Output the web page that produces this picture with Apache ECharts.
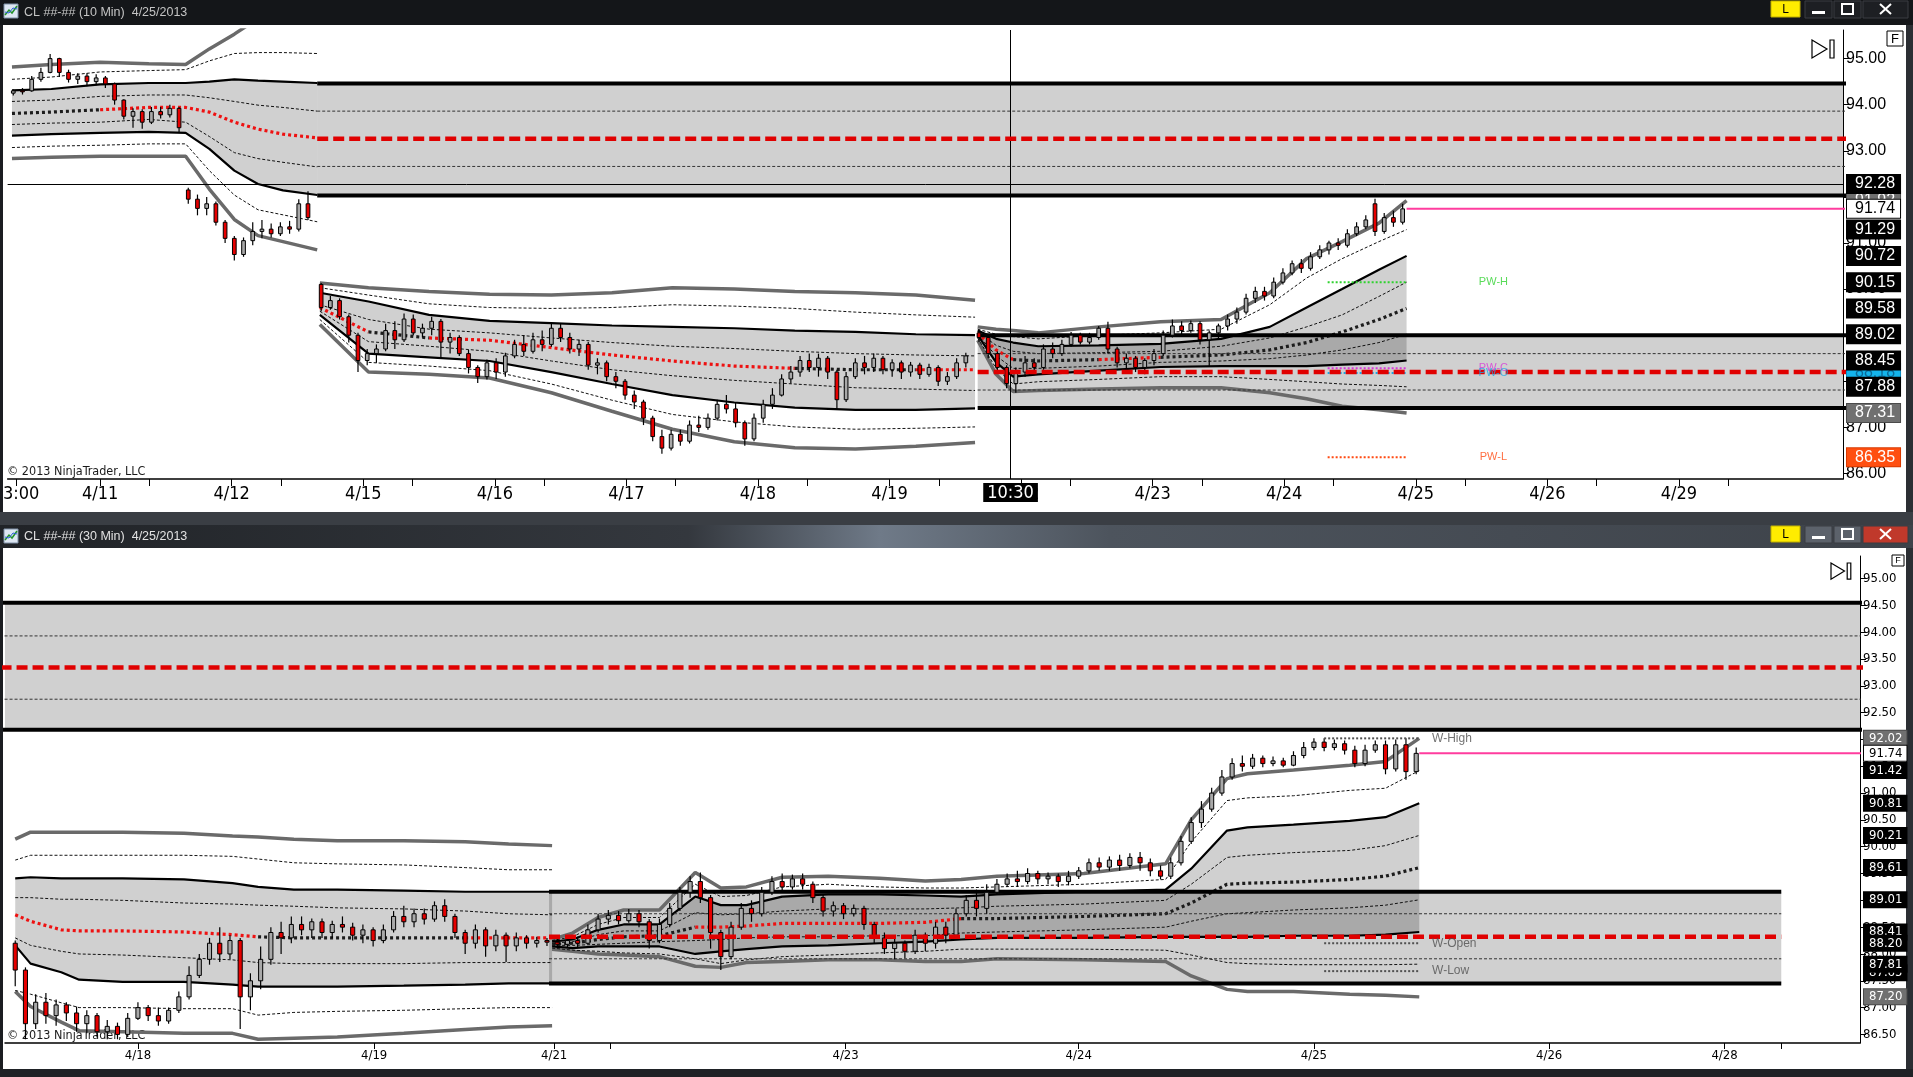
<!DOCTYPE html>
<html>
<head>
<meta charset="utf-8">
<title>CL ##-## 10 Min / 30 Min</title>
<script src="https://cdn.jsdelivr.net/npm/echarts@6.0.0/dist/echarts.min.js"></script>
<style>
html, body { margin: 0; padding: 0; background: #1b1d21; }
#main { width: 1913px; height: 1077px; }
</style>
</head>
<body>
<div id="main"></div>
<script>
// ---------- 10 Min panel (top). x = trading day: 4/11 = 1, 4/12 = 2, 4/15 = 3 ... ----------
var topTickDays = [0.36, 1, 1.375, 2, 2.375, 3, 3.375, 4, 4.375, 5, 5.375, 6, 6.375, 7, 7.375,
  8, 8.375, 9, 9.375, 10, 10.375, 11, 11.375, 12, 12.375, 13, 13.375];
var topLabelDays = [0.4, 1, 2, 3, 4, 5, 6, 7, 8, 9, 10, 11, 12, 13];
var topLabelText = ['3:00', '4/11', '4/12', '4/15', '4/16', '4/17', '4/18', '4/19', '4/22', '4/23', '4/24', '4/25', '4/26', '4/29'];
var topPriceTicks = [86, 87, 88, 89, 90, 91, 92, 93, 94, 95];

// bars: [open, close, low, high]
var topBars1 = [[94.25,94.30,94.20,94.33],[94.30,94.28,94.22,94.36],[94.30,94.55,94.28,94.62],[94.55,94.70,94.50,94.80],
  [94.70,95.00,94.68,95.10],[95.00,94.70,94.60,95.02],[94.70,94.55,94.48,94.76],[94.55,94.62,94.45,94.68],
  [94.62,94.50,94.40,94.68],[94.50,94.58,94.42,94.66],[94.58,94.45,94.36,94.62],[94.45,94.10,94.00,94.48],
  [94.10,93.75,93.68,94.12],[93.75,93.85,93.50,93.92],[93.85,93.62,93.48,93.90],[93.62,93.85,93.58,93.95],
  [93.85,93.78,93.70,93.95],[93.78,93.92,93.72,94.00],[93.92,93.50,93.40,93.95],[92.15,91.95,91.85,92.20],
  [91.95,91.75,91.60,92.05],[91.75,91.85,91.60,92.00],[91.85,91.45,91.38,91.90],[91.45,91.10,91.00,91.50],
  [91.10,90.75,90.62,91.15],[90.75,91.05,90.70,91.12],[91.05,91.25,90.95,91.45],[91.25,91.30,91.10,91.50],
  [91.30,91.20,91.12,91.42],[91.20,91.35,91.15,91.45],[91.35,91.30,91.20,91.48],[91.30,91.85,91.25,91.95],
  [91.85,91.55,91.50,92.12]];
var topBars2 = [[90.10,89.60,89.52,90.13],[89.60,89.75,89.55,89.85],[89.75,89.40,89.34,89.80],[89.40,89.00,88.84,89.45],
  [89.00,88.45,88.20,89.05],[88.45,88.60,88.35,88.70],[88.60,88.70,88.40,88.80],[88.70,89.10,88.65,89.25],
  [89.10,88.90,88.70,89.30],[88.90,89.35,88.85,89.47],[89.35,89.05,89.00,89.45],[89.05,89.15,88.95,89.25],
  [89.15,89.30,89.00,89.40],[89.30,88.85,88.50,89.35],[88.85,88.95,88.60,89.05],[88.95,88.60,88.55,89.00],
  [88.60,88.30,88.17,88.68],[88.30,88.10,87.96,88.35],[88.10,88.40,88.04,88.47],[88.40,88.20,88.05,88.50],
  [88.20,88.55,88.10,88.62],[88.55,88.80,88.50,88.90],[88.80,88.65,88.55,89.00],[88.65,88.90,88.60,89.05],
  [88.90,88.80,88.65,89.10],[88.80,89.15,88.75,89.26],[89.15,88.95,88.85,89.25],[88.95,88.70,88.60,89.05],
  [88.70,88.80,88.55,88.90],[88.80,88.35,88.25,88.85],[88.35,88.40,88.15,88.50],[88.40,88.10,88.00,88.45],
  [88.10,88.00,87.85,88.20],[88.00,87.70,87.60,88.05],[87.70,87.55,87.40,87.80],[87.55,87.20,87.05,87.60],
  [87.20,86.80,86.70,87.25],[86.80,86.55,86.43,86.95],[86.55,86.85,86.50,86.95],[86.85,86.70,86.60,86.95],
  [86.70,87.05,86.65,87.15],[87.05,87.00,86.90,87.25],[87.00,87.20,86.95,87.30],[87.20,87.50,87.15,87.60],
  [87.50,87.40,87.30,87.70],[87.40,87.10,87.00,87.55],[87.10,86.75,86.60,87.15],[86.75,87.20,86.70,87.30],
  [87.20,87.50,87.10,87.60],[87.50,87.70,87.40,87.85],[87.70,88.05,87.67,88.15],[88.05,88.20,87.95,88.33],
  [88.20,88.45,88.10,88.55],[88.45,88.30,88.20,88.60],[88.30,88.50,88.10,88.60],[88.50,88.20,88.05,88.55],
  [88.20,87.60,87.40,88.25],[87.60,88.10,87.55,88.20],[88.10,88.40,88.05,88.50],[88.40,88.30,88.15,88.55],
  [88.30,88.50,88.20,88.60],[88.50,88.25,88.15,88.55],[88.25,88.40,88.10,88.48],[88.40,88.20,88.05,88.45],
  [88.20,88.35,88.10,88.42],[88.35,88.15,88.05,88.40],[88.15,88.30,88.10,88.38],[88.30,88.00,87.90,88.35],
  [88.00,88.10,87.92,88.20],[88.10,88.40,88.05,88.50],[88.40,88.55,88.30,88.62]];
var topBars3 = [[89.05,88.95,88.85,89.12],[88.95,88.60,88.50,89.00],[88.60,88.30,88.20,88.65],[88.30,87.95,87.85,88.35],
  [87.95,88.20,87.75,88.30],[88.20,88.40,88.10,88.55],[88.40,88.30,88.20,88.50],[88.30,88.70,88.25,88.80],
  [88.70,88.60,88.50,88.84],[88.60,88.80,88.55,88.90],[88.80,89.00,88.75,89.07],[89.00,88.85,88.80,89.05],
  [88.85,88.95,88.80,89.05],[88.95,89.15,88.90,89.20],[89.15,88.70,88.60,89.29],[88.70,88.40,88.30,88.75],
  [88.40,88.50,88.25,88.60],[88.50,88.30,88.20,88.55],[88.30,88.45,88.15,88.50],[88.45,88.60,88.35,88.70],
  [88.60,89.00,88.55,89.10],[89.00,89.20,88.95,89.34],[89.20,89.10,89.00,89.30],[89.10,89.25,89.05,89.32],
  [89.25,88.90,88.80,89.30],[88.90,89.05,88.33,89.10],[89.05,89.20,88.90,89.25],[89.20,89.35,89.10,89.45],
  [89.35,89.50,89.25,89.60],[89.50,89.80,89.45,89.90],[89.80,89.95,89.70,90.05],[89.95,89.85,89.75,90.05],
  [89.85,90.15,89.80,90.25],[90.15,90.35,90.10,90.45],[90.35,90.55,90.30,90.62],[90.55,90.45,90.35,90.65],
  [90.45,90.70,90.40,90.80],[90.70,90.85,90.65,90.95],[90.85,91.00,90.75,91.05],[91.00,90.95,90.85,91.10],
  [90.95,91.20,90.90,91.30],[91.20,91.35,91.15,91.45],[91.35,91.50,91.30,91.60],[91.85,91.25,91.15,91.96],
  [91.25,91.55,91.20,91.65],[91.55,91.45,91.35,91.70],[91.45,91.74,91.40,91.85]];

// weekly VWAP bands: [day, grayUp, dashUp2, blackUp, dashUp1, center, dashDn1, blackDn, dashDn2, grayDn]
var topBand1 = [
  [0.33, 94.82, 94.55, 94.31, 94.07, 93.81, 93.57, 93.33, 93.07, 92.83],
  [0.63, 94.87, 94.60, 94.34, 94.10, 93.84, 93.60, 93.36, 93.10, 92.86],
  [1.00, 94.92, 94.71, 94.44, 94.18, 93.89, 93.62, 93.39, 93.12, 92.88],
  [1.37, 94.89, 94.74, 94.47, 94.21, 93.94, 93.68, 93.41, 93.15, 92.88],
  [1.65, 94.87, 94.76, 94.47, 94.21, 93.94, 93.62, 93.39, 93.15, 92.88],
  [1.83, 95.21, 94.95, 94.50, 94.15, 93.84, 93.31, 93.04, 92.57, 92.17],
  [2.02, 95.53, 95.11, 94.55, 94.07, 93.62, 92.96, 92.57, 92.04, 91.51],
  [2.20, 95.87, 95.13, 94.52, 93.99, 93.47, 92.83, 92.28, 91.72, 91.16],
  [2.39, 96.06, 95.13, 94.50, 93.94, 93.36, 92.75, 92.14, 91.61, 91.03],
  [2.65, 96.14, 95.11, 94.47, 93.86, 93.28, 92.65, 92.04, 91.46, 90.85]];
var topBand1Colors = 'kkkrrrrrrr';
var topBand2 = [
  [2.67, 90.13, 90.03, 89.92, 89.66, 89.60, 89.52, 89.44, 89.34, 89.23],
  [3.04, 90.03, 89.87, 89.73, 89.34, 89.07, 88.86, 88.60, 88.41, 88.20],
  [3.50, 89.95, 89.68, 89.44, 89.13, 88.94, 88.76, 88.52, 88.33, 88.15],
  [3.96, 89.89, 89.60, 89.31, 89.05, 88.89, 88.65, 88.44, 88.23, 88.07],
  [4.43, 89.87, 89.58, 89.26, 88.94, 88.73, 88.44, 88.20, 87.94, 87.75],
  [4.89, 89.92, 89.60, 89.21, 88.84, 88.57, 88.25, 87.94, 87.59, 87.35],
  [5.35, 90.03, 89.66, 89.18, 88.76, 88.44, 88.12, 87.70, 87.28, 86.96],
  [5.82, 90.00, 89.63, 89.15, 88.71, 88.33, 88.02, 87.54, 87.12, 86.69],
  [6.28, 89.95, 89.58, 89.10, 88.65, 88.28, 87.94, 87.43, 87.01, 86.56],
  [6.74, 89.92, 89.50, 89.07, 88.60, 88.25, 87.86, 87.38, 86.96, 86.53],
  [7.20, 89.87, 89.44, 89.02, 88.57, 88.25, 87.83, 87.38, 86.98, 86.59],
  [7.65, 89.76, 89.39, 89.00, 88.55, 88.25, 87.80, 87.41, 87.01, 86.67]];
var topBand2Colors = 'rrkrrrrrrkkr';
var topBand3 = [
  [7.67, 89.18, 89.13, 89.10, 89.07, 89.05, 89.02, 89.00, 88.94, 88.89],
  [7.81, 89.13, 89.02, 88.92, 88.78, 88.68, 88.55, 88.41, 88.28, 88.15],
  [7.94, 89.10, 88.97, 88.84, 88.65, 88.47, 88.28, 88.10, 87.94, 87.78],
  [8.13, 89.05, 88.92, 88.76, 88.60, 88.44, 88.28, 88.15, 87.99, 87.80],
  [8.59, 89.18, 89.00, 88.78, 88.62, 88.47, 88.33, 88.23, 88.04, 87.83],
  [9.06, 89.29, 89.05, 88.81, 88.65, 88.52, 88.41, 88.31, 88.10, 87.86],
  [9.52, 89.34, 89.13, 88.92, 88.76, 88.57, 88.44, 88.33, 88.10, 87.86],
  [9.89, 89.92, 89.66, 89.18, 88.94, 88.68, 88.49, 88.33, 88.04, 87.75],
  [10.17, 90.66, 90.24, 89.60, 89.18, 88.84, 88.57, 88.33, 87.99, 87.62],
  [10.44, 91.03, 90.66, 90.00, 89.44, 89.07, 88.68, 88.36, 87.94, 87.46],
  [10.72, 91.43, 91.03, 90.42, 89.84, 89.34, 88.84, 88.39, 87.91, 87.38],
  [10.93, 91.92, 91.29, 90.72, 90.15, 89.58, 89.02, 88.45, 87.88, 87.31]];
var topBand3Colors = 'rrrkkrkkkkkk';

// prior-week zones: [from, to, high, upperQuarter, mid, lowerQuarter, low]
var topZones = [[2.65, 14.6, 94.46, 93.86, 93.26, 92.66, 92.03],
                [7.67, 14.6, 89.00, 88.60, 88.20, 87.81, 87.42]];
// short reference levels: [from, to, price, text, colour]
var topLevels = [[10.33, 10.93, 90.15, 'PW-H', '#2fd22f'],
                 [10.33, 10.93, 88.28, 'PW-C', '#d838d8'],
                 [10.33, 10.93, 88.18, 'PW-O', '#19a9e6'],
                 [10.33, 10.93, 86.35, 'PW-L', '#ff4a12']];
// price markers on the right axis: [price, style]
var topTags = [[91.92, 'gray'], [88.18, 'cyan'], [92.28, 'black'], [91.74, 'white'], [91.29, 'black'], [90.72, 'black'],
  [90.15, 'black'], [89.58, 'black'], [89.02, 'black'], [88.45, 'black'], [87.88, 'black'], [87.31, 'gray'], [86.35, 'orange']];
var topLast = 91.74, topCrossDay = 7.92, topCrossPrice = 92.28;

// ---------- 30 Min panel (bottom). x = 30-min bar count from 4/18 00:00 ----------
var bottomTickIdx = [0, 46.2, 81.4, 92.3, 138.4, 184, 230, 276, 310.3, 321.4];
var bottomLabelIdx = [0, 46.2, 81.4, 138.4, 184, 230, 276, 310.3];
var bottomLabelText = ['4/18', '4/19', '4/21', '4/23', '4/24', '4/25', '4/26', '4/28'];
var bottomPriceTicks = [86.5, 87, 87.5, 88, 88.5, 89, 89.5, 90, 90.5, 91, 91.5, 92, 92.5, 93, 93.5, 94, 94.5, 95];

var bottomBars1 = [[88.20,87.70,87.40,88.25],[87.70,86.70,86.41,87.75],[86.70,87.10,86.60,87.25],[87.10,86.85,86.70,87.27],
  [86.85,87.05,86.66,87.15],[87.05,86.90,86.75,87.10],[86.90,86.70,86.55,87.02],[86.70,86.85,86.52,86.95],
  [86.85,86.55,86.45,86.90],[86.55,86.65,86.41,86.77],[86.65,86.50,86.41,86.72],[86.50,86.80,86.45,86.90],
  [86.80,87.00,86.77,87.10],[87.00,86.85,86.75,87.05],[86.85,86.75,86.66,87.00],[86.75,86.95,86.70,87.00],
  [86.95,87.20,86.90,87.30],[87.20,87.60,87.15,87.77],[87.60,87.90,87.55,88.00],[87.90,88.20,87.80,88.30],
  [88.20,88.00,87.85,88.50],[88.00,88.25,87.90,88.35],[88.25,87.20,86.60,88.30],[87.20,87.50,86.95,87.64],
  [87.50,87.90,87.34,88.14],[87.90,88.40,87.80,88.50],[88.40,88.30,88.00,88.60],[88.30,88.55,88.20,88.70],
  [88.55,88.45,88.35,88.70],[88.45,88.60,88.30,88.66],[88.60,88.40,88.30,88.66],[88.40,88.55,88.30,88.62],
  [88.55,88.50,88.40,88.70],[88.50,88.35,88.25,88.58],[88.35,88.45,88.20,88.55],[88.45,88.25,88.14,88.50],
  [88.25,88.45,88.20,88.55],[88.45,88.70,88.40,88.80],[88.70,88.60,88.50,88.90],[88.60,88.75,88.50,88.85],
  [88.75,88.65,88.55,88.85],[88.65,88.90,88.60,88.98],[88.90,88.70,88.60,89.02],[88.70,88.40,88.30,88.75],
  [88.40,88.20,88.00,88.45],[88.20,88.45,88.10,88.55],[88.45,88.15,87.95,88.50],[88.15,88.35,88.05,88.45],
  [88.35,88.15,87.85,88.40],[88.15,88.30,88.05,88.40],[88.30,88.20,88.10,88.35],[88.20,88.25,88.12,88.32],
  [88.25,88.22,88.15,88.30]];
var bottomBars2 = [[88.22,88.18,88.12,88.28],[88.18,88.25,88.12,88.30],[88.25,88.20,88.12,88.32],[88.20,88.45,88.18,88.55],
  [88.45,88.65,88.40,88.75],[88.65,88.72,88.55,88.82],[88.72,88.62,88.55,88.80],[88.62,88.75,88.58,88.84],
  [88.75,88.60,88.50,88.82],[88.60,88.25,88.10,88.65],[88.25,88.55,88.20,88.66],[88.55,88.85,88.50,88.95],
  [88.85,89.15,88.80,89.25],[89.15,89.35,89.05,89.45],[89.35,89.05,88.95,89.52],[89.05,88.40,88.10,89.10],
  [88.40,87.95,87.70,88.45],[87.95,88.50,87.90,88.60],[88.50,88.85,88.45,88.95],[88.85,88.75,88.60,89.00],
  [88.75,89.15,88.70,89.25],[89.15,89.35,89.10,89.45],[89.35,89.25,89.15,89.50],[89.25,89.40,89.20,89.48],
  [89.40,89.30,89.20,89.50],[89.30,89.05,88.95,89.35],[89.05,88.80,88.70,89.10],[88.80,88.90,88.70,88.98],
  [88.90,88.75,88.65,88.95],[88.75,88.85,88.70,88.92],[88.85,88.55,88.45,88.90],[88.55,88.30,88.20,88.60],
  [88.30,88.10,88.00,88.40],[88.10,88.20,87.90,88.30],[88.20,88.05,87.92,88.25],[88.05,88.35,88.00,88.45],
  [88.35,88.20,88.05,88.40],[88.20,88.50,88.10,88.60],[88.50,88.35,88.20,88.60],[88.35,88.75,88.30,88.85],
  [88.75,89.00,88.70,89.10],[89.00,88.85,88.70,89.20],[88.85,89.15,88.75,89.30],[89.15,89.30,89.10,89.40],
  [89.30,89.40,89.25,89.50],[89.40,89.35,89.25,89.55],[89.35,89.50,89.30,89.60],[89.50,89.40,89.30,89.55],
  [89.40,89.45,89.30,89.52],[89.45,89.35,89.25,89.50],[89.35,89.45,89.28,89.55],[89.45,89.55,89.40,89.62],
  [89.55,89.70,89.50,89.78],[89.70,89.62,89.55,89.80],[89.62,89.75,89.55,89.82],[89.75,89.65,89.55,89.85],
  [89.65,89.80,89.60,89.88],[89.80,89.70,89.55,89.90],[89.70,89.55,89.45,89.78],[89.55,89.45,89.39,89.65],
  [89.45,89.70,89.40,89.80],[89.70,90.10,89.65,90.20],[90.10,90.45,90.05,90.55],[90.45,90.70,90.35,90.85],
  [90.70,91.00,90.65,91.10],[91.00,91.30,90.95,91.43],[91.30,91.55,91.25,91.65],[91.55,91.50,91.40,91.70],
  [91.50,91.65,91.45,91.73],[91.65,91.55,91.48,91.70],[91.55,91.60,91.50,91.68],[91.60,91.52,91.48,91.66],
  [91.52,91.70,91.50,91.78],[91.70,91.85,91.65,91.95],[91.85,91.95,91.80,92.02],[91.95,91.85,91.78,92.02],
  [91.85,91.92,91.80,92.00],[91.92,91.80,91.72,91.98],[91.80,91.55,91.48,91.88],[91.55,91.80,91.50,91.90],
  [91.80,91.90,91.75,91.98],[91.90,91.45,91.35,91.98],[91.45,91.90,91.40,92.00],[91.90,91.40,91.25,92.02],
  [91.40,91.74,91.35,91.85]];

var bottomBand1 = [
  [-24, 90.14, 89.75, 89.41, 89.05, 88.73, 88.30, 88.16, 87.32, 87.30],
  [-21, 90.27, 89.84, 89.43, 89.05, 88.61, 88.16, 87.82, 87.25, 87.02],
  [-15, 90.27, 89.84, 89.41, 89.02, 88.45, 88.05, 87.66, 87.09, 86.73],
  [-11.5, 90.27, 89.84, 89.41, 89.02, 88.43, 88.00, 87.52, 87.00, 86.57],
  [-3, 90.27, 89.84, 89.41, 89.00, 88.43, 87.98, 87.48, 87.00, 86.55],
  [9, 90.25, 89.84, 89.39, 88.95, 88.41, 87.93, 87.48, 86.98, 86.52],
  [18.5, 90.20, 89.82, 89.32, 88.93, 88.36, 87.89, 87.43, 86.98, 86.52],
  [23.5, 90.18, 89.77, 89.25, 88.91, 88.32, 87.84, 87.39, 86.86, 86.41],
  [30.5, 90.14, 89.70, 89.20, 88.89, 88.30, 87.82, 87.39, 86.91, 86.43],
  [39, 90.11, 89.68, 89.20, 88.86, 88.30, 87.82, 87.39, 86.93, 86.45],
  [52, 90.11, 89.66, 89.18, 88.84, 88.30, 87.82, 87.41, 86.95, 86.52],
  [64, 90.09, 89.61, 89.16, 88.80, 88.30, 87.84, 87.43, 86.98, 86.59],
  [72.5, 90.05, 89.57, 89.16, 88.75, 88.30, 87.84, 87.45, 87.00, 86.64],
  [81, 90.02, 89.57, 89.16, 88.73, 88.30, 87.84, 87.45, 87.00, 86.66]];
var bottomBand1Colors = 'rrrrrrrrkkkkrr';
var bottomBand2 = [
  [81, 88.27, 88.25, 88.23, 88.20, 88.18, 88.16, 88.14, 88.11, 88.09],
  [85, 88.39, 88.32, 88.27, 88.23, 88.20, 88.16, 88.11, 88.07, 88.05],
  [90, 88.68, 88.55, 88.45, 88.36, 88.27, 88.18, 88.14, 88.05, 88.00],
  [95, 88.82, 88.68, 88.55, 88.43, 88.32, 88.20, 88.14, 88.02, 87.98],
  [102, 88.82, 88.68, 88.55, 88.43, 88.34, 88.23, 88.14, 88.00, 87.95],
  [109, 89.52, 89.30, 89.07, 88.77, 88.50, 88.25, 88.00, 87.91, 87.77],
  [114, 89.23, 89.07, 88.91, 88.73, 88.50, 88.27, 88.05, 87.82, 87.75],
  [119, 89.25, 89.09, 88.91, 88.75, 88.52, 88.30, 88.09, 87.89, 87.84],
  [126, 89.43, 89.25, 89.07, 88.80, 88.57, 88.32, 88.14, 87.95, 87.86],
  [135, 89.45, 89.30, 89.11, 88.84, 88.57, 88.32, 88.16, 87.98, 87.89],
  [145, 89.41, 89.25, 89.11, 88.84, 88.57, 88.34, 88.20, 88.02, 87.89],
  [154, 89.36, 89.23, 89.09, 88.84, 88.59, 88.34, 88.23, 88.05, 87.86],
  [161, 89.39, 89.23, 89.07, 88.86, 88.66, 88.39, 88.27, 88.09, 87.86],
  [168, 89.45, 89.25, 89.11, 88.89, 88.66, 88.41, 88.30, 88.09, 87.91],
  [185, 89.50, 89.30, 89.16, 88.93, 88.70, 88.45, 88.30, 88.09, 87.89],
  [201, 89.68, 89.39, 89.20, 89.00, 88.75, 88.50, 88.32, 88.07, 87.86],
  [206, 90.50, 90.09, 89.59, 89.30, 88.95, 88.61, 88.32, 87.98, 87.59],
  [213, 91.27, 90.86, 90.30, 89.80, 89.30, 88.75, 88.32, 87.84, 87.34],
  [217, 91.36, 90.91, 90.36, 89.84, 89.32, 88.77, 88.32, 87.82, 87.30],
  [226, 91.43, 90.95, 90.41, 89.89, 89.34, 88.82, 88.34, 87.80, 87.30],
  [237, 91.52, 91.05, 90.48, 89.93, 89.39, 88.86, 88.34, 87.80, 87.25],
  [244, 91.59, 91.09, 90.55, 90.02, 89.45, 88.91, 88.36, 87.80, 87.23],
  [250.6, 92.02, 91.42, 90.81, 90.21, 89.61, 89.01, 88.41, 87.81, 87.20]];
var bottomBand2Colors = 'kkkkkkrrrrrrrkkkkkkkkkk';

var bottomZones = [[-30, 340, 94.55, 93.93, 93.34, 92.75, 92.18],
                   [80.4, 321.4, 89.16, 88.75, 88.32, 87.91, 87.45]];
var bottomLevels = [[232, 250.6, 92.02, 'W-High', '#505050'],
                    [232, 250.6, 88.20, 'W-Open', '#505050'],
                    [232, 250.6, 87.68, 'W-Low', '#505050']];
var bottomTags = [[87.65, 'black'], [92.02, 'gray'], [91.74, 'white'], [91.42, 'black'], [90.81, 'black'], [90.21, 'black'],
  [89.61, 'black'], [89.01, 'black'], [88.41, 'black'], [88.20, 'black'], [87.81, 'black'], [87.20, 'gray']];
var bottomLast = 91.74;

// ---------- styles ----------
var FN = "'Liberation Sans Narrow','DejaVu Sans Condensed','Arial Narrow',sans-serif";
var FR = "'Liberation Sans',Arial,sans-serif";
var SHADE = 'rgba(0,0,0,0.185)';
var GRAY = {color: '#6a6a6a', width: 3.5};
var DASH = {color: '#111', width: 1, type: [3, 2]};
var SOLID = {color: '#000', width: 2.2};
var BAND_STYLE = [null, GRAY, DASH, SOLID, DASH, null, DASH, SOLID, DASH, GRAY];
var CENTER = {k: '#1c1c1c', r: '#ee1111'};
var TAG = {
  black: {bg: '#000', fg: '#fff', bd: '#000'},
  white: {bg: '#fff', fg: '#000', bd: '#000'},
  gray: {bg: '#707070', fg: '#fff', bd: '#4a4a4a'},
  orange: {bg: '#ff4f10', fg: '#fff', bd: '#d83a00'},
  cyan: {bg: '#14b4ec', fg: '#0a6a98', bd: '#0a8ac0'}
};

var series = [];

function addLine(gi, pts, ls, z) {
  series.push({type: 'line', xAxisIndex: gi, yAxisIndex: gi, data: pts, symbol: 'none', showSymbol: false,
    silent: true, z: z, lineStyle: ls, emphasis: {disabled: true}});
}

function addZones(gi, zones) {
  series.push({type: 'custom', xAxisIndex: gi, yAxisIndex: gi, z: 1, silent: true, clip: true,
    data: zones.map(function (r) { return [r[0], r[2], r[1], r[6]]; }),
    renderItem: function (p, api) {
      var a = api.coord([api.value(0), api.value(1)]);
      var b = api.coord([api.value(2), api.value(3)]);
      return {type: 'rect', shape: {x: a[0], y: a[1], width: b[0] - a[0], height: b[1] - a[1]}, style: {fill: SHADE}};
    }});
  zones.forEach(function (r) {
    addLine(gi, [[r[0], r[2]], [r[1], r[2]]], {color: '#000', width: 4}, 4);
    addLine(gi, [[r[0], r[6]], [r[1], r[6]]], {color: '#000', width: 4}, 4);
    addLine(gi, [[r[0], r[3]], [r[1], r[3]]], {color: '#333', width: 1, type: [3, 2]}, 4);
    addLine(gi, [[r[0], r[5]], [r[1], r[5]]], {color: '#333', width: 1, type: [3, 2]}, 4);
    addLine(gi, [[r[0], r[4]], [r[1], r[4]]], {color: '#e00000', width: 4.5, type: [11, 5]}, 7);
  });
}

function addBand(gi, table, colors) {
  series.push({type: 'custom', xAxisIndex: gi, yAxisIndex: gi, z: 1, silent: true, clip: true,
    data: [[table[0][0], table[0][3]]],
    renderItem: function (p, api) {
      var pts = [], i;
      for (i = 0; i < table.length; i++) pts.push(api.coord([table[i][0], table[i][3]]));
      for (i = table.length - 1; i >= 0; i--) pts.push(api.coord([table[i][0], table[i][7]]));
      return {type: 'polygon', shape: {points: pts}, style: {fill: SHADE}};
    }});
  for (var c = 1; c <= 9; c++) {
    if (c === 5) continue;
    addLine(gi, table.map(function (r) { return [r[0], r[c]]; }), BAND_STYLE[c], (c === 1 || c === 9) ? 2 : 3);
  }
  // centre line: black while rising, red while falling
  var runs = [], run = null;
  table.forEach(function (r, i) {
    var f = colors.charAt(i);
    if (!run || run.f !== f) {
      var next = {f: f, pts: run ? [run.pts[run.pts.length - 1]] : []};
      runs.push(next);
      run = next;
    }
    run.pts.push([r[0], r[5]]);
  });
  runs.forEach(function (rn) {
    if (rn.pts.length > 1) addLine(gi, rn.pts, {color: CENTER[rn.f], width: 3.2, type: [3, 3]}, 3);
  });
}

function addBars(gi, list, start, step) {
  var rows = list.map(function (b, i) { return [start + i * step, b[0], b[1], b[2], b[3]]; });
  series.push({type: 'custom', xAxisIndex: gi, yAxisIndex: gi, z: 6, silent: true, clip: true,
    data: rows, encode: {x: 0, y: [1, 2, 3, 4]},
    renderItem: function (p, api) {
      var x = api.value(0), o = api.value(1), c = api.value(2), l = api.value(3), h = api.value(4);
      var pH = api.coord([x, h]), pL = api.coord([x, l]);
      var yO = api.coord([x, o])[1], yC = api.coord([x, c])[1];
      var w = Math.max(3, api.size([step, 0])[0] * 0.4);
      var top = Math.min(yO, yC), ht = Math.max(1, Math.abs(yO - yC));
      return {type: 'group', children: [
        {type: 'line', shape: {x1: pH[0], y1: pH[1], x2: pL[0], y2: pL[1]}, style: {stroke: '#000', lineWidth: 1.2}},
        {type: 'rect', shape: {x: pH[0] - w / 2, y: top, width: w, height: ht},
          style: {fill: c >= o ? '#a9a9a9' : '#e60000', stroke: '#000', lineWidth: 1}}
      ]};
    }});
}

function addLevels(gi, levels, labelX, pos, fs) {
  levels.forEach(function (m) {
    addLine(gi, [[m[0], m[2]], [m[1], m[2]]], {color: m[4], width: 2, type: [2, 2]}, 6);
  });
  series.push({type: 'scatter', xAxisIndex: gi, yAxisIndex: gi, z: 8, silent: true, symbolSize: 1,
    itemStyle: {color: 'rgba(0,0,0,0)'},
    data: levels.map(function (m) {
      return {value: [labelX, m[2]], label: {show: true, formatter: m[3], color: m[4], position: pos, distance: 0,
        fontSize: fs, fontFamily: FR}};
    })});
}

function tagItems(tags, fs, font, pad) {
  return tags.map(function (t) {
    var st = TAG[t[1]];
    return {yAxis: t[0], lineStyle: {color: 'rgba(0,0,0,0)', width: 1, type: 'solid'},
      label: {show: true, position: 'end', distance: 4, formatter: t[0].toFixed(2), color: st.fg,
        backgroundColor: st.bg, borderColor: st.bd, borderWidth: 1, padding: pad,
        fontSize: fs, fontFamily: font, lineHeight: fs + 1}};
  });
}

function addLast(gi, x0, x1, price, marks) {
  series.push({type: 'line', xAxisIndex: gi, yAxisIndex: gi, data: [[x0, price], [x1, price]], symbol: 'none',
    silent: true, z: 10, lineStyle: {color: '#ff3c9e', width: 2}, emphasis: {disabled: true},
    markLine: {silent: true, symbol: ['none', 'none'], animation: false, data: marks}});
}

// ---------- top panel ----------
addZones(0, topZones);
addBand(0, topBand1, topBand1Colors);
addBand(0, topBand2, topBand2Colors);
addBand(0, topBand3, topBand3Colors);
addBars(0, topBars1, 0.34, 0.07);
addBars(0, topBars2, 2.68, 0.07);
addBars(0, topBars3, 7.68, 0.07);
addLevels(0, topLevels, 11.59, 'inside', 11);
var topMarks = [
  {xAxis: topCrossDay, lineStyle: {color: '#000', width: 1, type: 'solid', opacity: 1},
    label: {show: true, position: 'start', distance: 4, formatter: '10:30', color: '#fff', backgroundColor: '#000',
      padding: [1, 4, 0, 4], fontSize: 18, fontFamily: FN}},
  {yAxis: topCrossPrice, lineStyle: {color: '#000', width: 1, type: 'solid', opacity: 1}, label: {show: false}}
].concat(tagItems(topTags, 16, FR, [1, 5, 0, 8]));
addLast(0, 10.93, 14.6, topLast, topMarks);

// ---------- bottom panel ----------
addZones(1, bottomZones);
addBand(1, bottomBand1, bottomBand1Colors);
addBand(1, bottomBand2, bottomBand2Colors);
addBars(1, bottomBars1, -24, 2);
addBars(1, bottomBars2, 82, 2);
addLevels(1, bottomLevels, 253, 'right', 12);
addLast(1, 250.6, 340, bottomLast, tagItems(bottomTags, 13, FN, [1, 4, 0, 5]));

function pick(vals, texts) {
  return function (v) {
    for (var i = 0; i < vals.length; i++) if (Math.abs(vals[i] - v) < 1e-6) return texts[i];
    return '';
  };
}
function fix2(v) { return v.toFixed(2); }

// ---------- window chrome ----------
function winButtons(y, closeRed) {
  var g = [
    {type: 'rect', z: 20, shape: {x: 1771, y: y + 1, width: 29, height: 16}, style: {fill: '#ffec00', stroke: '#bfae00'}},
    {type: 'text', z: 21, x: 1785.5, y: y + 9.5, style: {text: 'L', fill: '#000', font: '12px ' + FR, textAlign: 'center', align: 'center', textVerticalAlign: 'middle', verticalAlign: 'middle'}},
    {type: 'rect', z: 20, shape: {x: 1805, y: y + 1, width: 27, height: 17}, style: {fill: closeRed ? '#5c626b' : '#1d1f23', stroke: '#3a3d42'}},
    {type: 'rect', z: 21, shape: {x: 1812, y: y + 11, width: 13, height: 3}, style: {fill: '#fff'}},
    {type: 'rect', z: 20, shape: {x: 1834, y: y + 1, width: 27, height: 17}, style: {fill: closeRed ? '#5c626b' : '#1d1f23', stroke: '#3a3d42'}},
    {type: 'rect', z: 21, shape: {x: 1842, y: y + 4, width: 11, height: 10}, style: {fill: 'none', stroke: '#fff', lineWidth: 2}},
    {type: 'rect', z: 20, shape: {x: 1863, y: y + 1, width: 45, height: 17}, style: {fill: closeRed ? '#c0392b' : '#1d1f23', stroke: '#3a3d42'}},
    {type: 'line', z: 21, shape: {x1: 1880, y1: y + 4, x2: 1891, y2: y + 14}, style: {stroke: '#fff', lineWidth: 2}},
    {type: 'line', z: 21, shape: {x1: 1891, y1: y + 4, x2: 1880, y2: y + 14}, style: {stroke: '#fff', lineWidth: 2}}
  ];
  return g;
}
function winIcon(y) {
  return [
    {type: 'rect', z: 20, shape: {x: 4, y: y + 4, width: 14, height: 14}, style: {fill: '#dde6f2', stroke: '#7f90a6'}},
    {type: 'polyline', z: 21, shape: {points: [[5, y + 15], [9, y + 10], [12, y + 13], [17, y + 6]]}, style: {stroke: '#22902a', lineWidth: 1.5, fill: 'none'}},
    {type: 'polyline', z: 21, shape: {points: [[5, y + 12], [9, y + 13], [13, y + 8], [17, y + 9]]}, style: {stroke: '#2a5fd0', lineWidth: 1, fill: 'none'}}
  ];
}
function goEnd(x, y, s) {
  return [
    {type: 'polygon', z: 20, shape: {points: [[x, y], [x + 15 * s, y + 9 * s], [x, y + 18 * s]]}, style: {fill: '#fff', stroke: '#000', lineWidth: 1.2}},
    {type: 'rect', z: 20, shape: {x: x + 18 * s, y: y, width: 4 * s, height: 18 * s}, style: {fill: '#fff', stroke: '#000', lineWidth: 1.2}}
  ];
}
function fBox(x, y, w) {
  return [
    {type: 'rect', z: 20, shape: {x: x, y: y, width: w, height: w - 1}, style: {fill: '#fff', stroke: '#000'}},
    {type: 'text', z: 21, x: x + w / 2, y: y + w / 2, style: {text: 'F', fill: '#000', font: (w - 3) + 'px ' + FR, textAlign: 'center', align: 'center', textVerticalAlign: 'middle', verticalAlign: 'middle'}}
  ];
}

var chrome = [
  {type: 'rect', z: -10, shape: {x: 0, y: 0, width: 1913, height: 25}, style: {fill: '#141619'}},
  {type: 'rect', z: -10, shape: {x: 3, y: 25, width: 1903, height: 487}, style: {fill: '#ffffff'}},
  {type: 'rect', z: -10, shape: {x: 1906, y: 25, width: 7, height: 487}, style: {fill: '#2b2e33'}},
  {type: 'rect', z: -10, shape: {x: 0, y: 512, width: 1913, height: 13}, style: {fill: '#3a3e44'}},
  {type: 'rect', z: -10, shape: {x: 0, y: 525, width: 1913, height: 23},
    style: {fill: new echarts.graphic.LinearGradient(0, 0, 1, 0, [
      {offset: 0, color: '#202327'}, {offset: 0.36, color: '#34383e'}, {offset: 0.46, color: '#6f7a88'},
      {offset: 0.58, color: '#4d545d'}, {offset: 1, color: '#3d4249'}])}},
  {type: 'rect', z: -10, shape: {x: 3, y: 548, width: 1903, height: 521}, style: {fill: '#ffffff'}},
  {type: 'rect', z: -10, shape: {x: 1906, y: 548, width: 7, height: 521}, style: {fill: '#2b2e33'}},
  {type: 'rect', z: -10, shape: {x: 0, y: 1069, width: 1913, height: 8}, style: {fill: '#1f2226'}},
  {type: 'text', z: 20, x: 24, y: 13, style: {text: 'CL ##-## (10 Min)  4/25/2013', fill: '#c4c4c4', font: '12.5px ' + FR, textVerticalAlign: 'middle', verticalAlign: 'middle'}},
  {type: 'text', z: 20, x: 24, y: 537, style: {text: 'CL ##-## (30 Min)  4/25/2013', fill: '#e2e2e2', font: '12.5px ' + FR, textVerticalAlign: 'middle', verticalAlign: 'middle'}},
  {type: 'text', z: -5, x: 7, y: 472, style: {text: '\u00a9 2013 NinjaTrader, LLC', fill: '#1a1a1a', font: '12.5px ' + FN, textVerticalAlign: 'middle', verticalAlign: 'middle'}},
  {type: 'text', z: -5, x: 7, y: 1036, style: {text: '\u00a9 2013 NinjaTrader, LLC', fill: '#1a1a1a', font: '12.5px ' + FN, textVerticalAlign: 'middle', verticalAlign: 'middle'}}
].concat(winIcon(0), winIcon(525), winButtons(0, false), winButtons(525, true),
  goEnd(1812, 40, 1), goEnd(1831, 563, 0.9), fBox(1887, 31, 16), fBox(1892, 555, 12));

var option = {
  animation: false,
  backgroundColor: '#1b1d21',
  graphic: chrome,
  grid: [
    {left: 5, top: 30, width: 1838, height: 449},
    {left: 5, top: 556, width: 1855, height: 487}
  ],
  xAxis: [
    {type: 'value', gridIndex: 0, min: 0.297, max: 14.247,
      axisLine: {show: true, onZero: false, lineStyle: {color: '#000', width: 1.5}},
      axisTick: {show: true, customValues: topTickDays, length: 7, lineStyle: {color: '#000'}},
      axisLabel: {show: true, customValues: topLabelDays, formatter: pick(topLabelDays, topLabelText),
        color: '#000', fontFamily: FN, fontSize: 18, margin: 6},
      splitLine: {show: false}},
    {type: 'value', gridIndex: 1, min: -26, max: 336.8,
      axisLine: {show: true, onZero: false, lineStyle: {color: '#000', width: 1.5}},
      axisTick: {show: true, customValues: bottomTickIdx, length: 6, lineStyle: {color: '#000'}},
      axisLabel: {show: true, customValues: bottomLabelIdx, formatter: pick(bottomLabelIdx, bottomLabelText),
        color: '#000', fontFamily: FN, fontSize: 13, margin: 6},
      splitLine: {show: false}}
  ],
  yAxis: [
    {type: 'value', gridIndex: 0, position: 'right', min: 85.88, max: 95.62,
      axisLine: {show: true, onZero: false, lineStyle: {color: '#000', width: 1}},
      axisTick: {show: true, customValues: topPriceTicks, length: 6, lineStyle: {color: '#000'}},
      axisLabel: {show: true, customValues: topPriceTicks, formatter: fix2, color: '#000', fontFamily: FR, fontSize: 16, margin: 3},
      splitLine: {show: false}},
    {type: 'value', gridIndex: 1, position: 'right', min: 86.34, max: 95.42,
      axisLine: {show: true, onZero: false, lineStyle: {color: '#000', width: 1}},
      axisTick: {show: true, customValues: bottomPriceTicks, length: 6, lineStyle: {color: '#000'}},
      axisLabel: {show: true, customValues: bottomPriceTicks, formatter: fix2, color: '#000', fontFamily: FN, fontSize: 13, margin: 3},
      splitLine: {show: false}}
  ],
  series: series
};

var chart = echarts.init(document.getElementById('main'));
chart.setOption(option);
</script>
</body>
</html>
